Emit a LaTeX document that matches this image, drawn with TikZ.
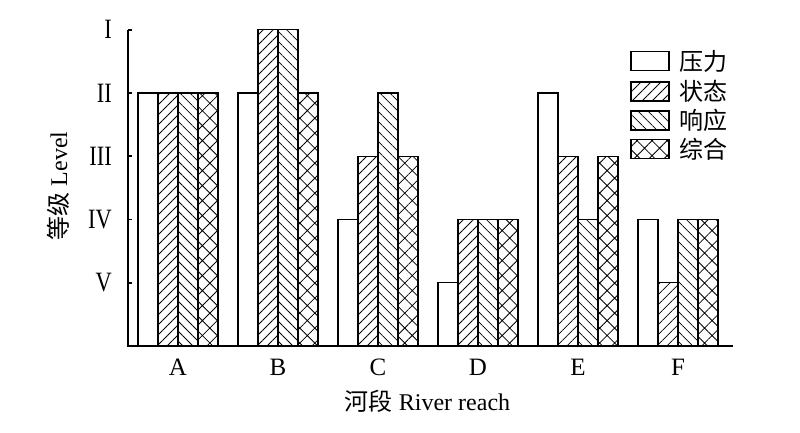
\documentclass[tikz,border=0pt]{standalone}
\usepackage{fontspec}
\setmainfont{Liberation Serif}
\newfontfamily\cjk{Noto Sans CJK SC}
\usetikzlibrary{patterns.meta}
\tikzset{
  barbox/.style={draw=black, line width=1.1pt, fill=white},
  pres/.style={barbox},
  stat/.style={barbox, pattern={Lines[angle=45,distance=7.07pt,line width=0.8pt]}},
  resp/.style={barbox, pattern={Lines[angle=-45,distance=7.07pt,line width=0.8pt]}},
  comb/.style={barbox, pattern={Hatch[angle=45,distance=10.6pt,line width=0.8pt]}},
  roman/.style={anchor=east, inner sep=0pt, font=\fontsize{28}{28}\selectfont},
  xlab/.style={inner sep=0pt, font=\fontsize{25}{25}\selectfont},
  axlab/.style={inner sep=0pt, font=\fontsize{24}{24}\selectfont},
  legtext/.style={anchor=west, inner sep=0pt, font=\cjk\fontsize{24}{24}\selectfont},
  axisline/.style={line width=1.6pt},
}
\begin{document}
\begin{tikzpicture}[x=1pt,y=-1pt]
\useasboundingbox (0,0) rectangle (800,433);
% bars
\def\base{346}
\def\lv{63.25}
\foreach \g/\a/\b/\c/\d in {0/4/4/4/4, 1/4/5/5/4, 2/2/3/4/3, 3/1/2/2/2, 4/4/3/2/3, 5/2/1/2/2}{
  \pgfmathsetmacro{\xo}{138+100*\g}
  \draw[pres] (\xo,\base) rectangle ({\xo+20},{\base-\lv*\a});
  \draw[stat] ({\xo+20},\base) rectangle ({\xo+40},{\base-\lv*\b});
  \draw[resp] ({\xo+40},\base) rectangle ({\xo+60},{\base-\lv*\c});
  \draw[comb] ({\xo+60},\base) rectangle ({\xo+80},{\base-\lv*\d});
}
% axes
\coordinate (ytop) at (128,30);
\coordinate (orig) at (128,346);
\coordinate (xend) at (733,346);
\draw[axisline] (ytop) -- (orig) -- (xend);
\foreach \v/\t in {5/I,4/II,3/III,2/IV,1/V}{
  \coordinate (tk\v) at (128,{\base-\lv*\v});
  \draw[axisline] (tk\v) -- ++(3.5,0);
  \node[roman] (r\v) at (112,{\base-\lv*\v}) {\scalebox{0.8}[1]{\t}};
}
% x labels
\foreach \g/\t in {0/A,1/B,2/C,3/D,4/E,5/F}{
  \node[xlab] (x\t) at ({178+100*\g},367) {\t};
}
\node[axlab] (xtitle) at (427.5,401) {{\cjk 河段} River reach};
\node[axlab, rotate=90] (ytitle) at (58,186) {{\cjk 等级} Level};
% legend
\foreach \i/\s/\t/\y in {1/pres/压力/61, 2/stat/状态/91.5, 3/resp/响应/120.5, 4/comb/综合/149}{
  \draw[\s] (631,{\y-9.5}) rectangle (669,{\y+9.5});
  \node[legtext] (leg\i) at (679,\y) {\t};
}
\end{tikzpicture}
\end{document}
